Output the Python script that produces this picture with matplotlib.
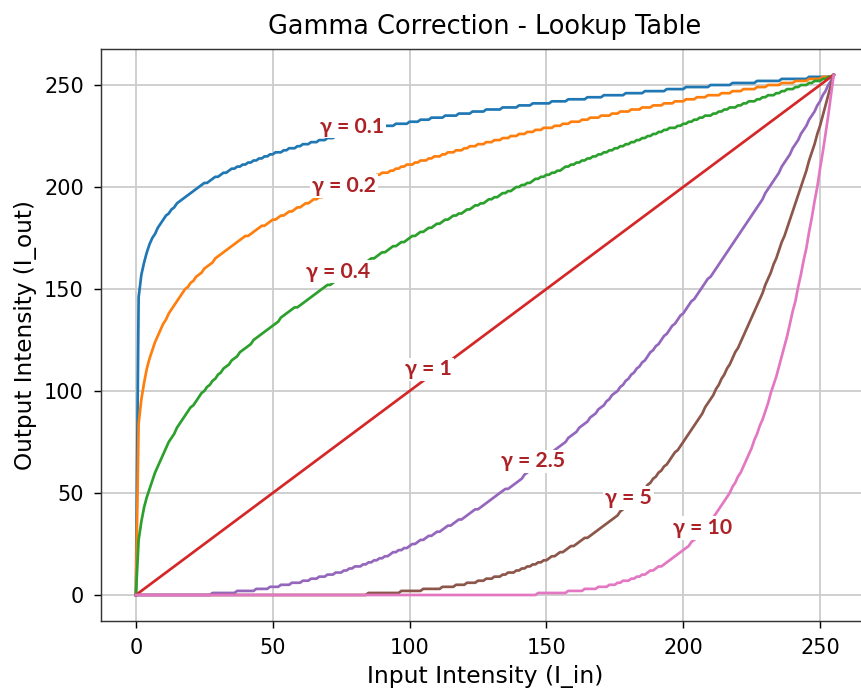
import numpy as np
import matplotlib
matplotlib.use("Agg")
import matplotlib.pyplot as plt

# gamma values and where each inline label sits (input intensity)
gammas = [0.1, 0.2, 0.4, 1, 2.5, 5, 10]
label_texts = ["γ = 0.1", "γ = 0.2", "γ = 0.4", "γ = 1", "γ = 2.5", "γ = 5", "γ = 10"]
label_x = [79, 76, 74, 107, 145, 180, 207]
label_dy = [4, 0.5, 4, 4, 4, 4, 2]  # small vertical nudge, points

intensity = np.arange(256)

fig = plt.figure(figsize=(861 / 130, 689 / 130), dpi=130)
ax = fig.add_axes([101 / 861, 1 - 621 / 689, 767.6 / 861, 572.2 / 689])

luts = []
for g in gammas:
    lut = np.array(255 * (intensity / 255) ** g, dtype=np.uint8)
    luts.append(lut)
    ax.plot(intensity, lut, lw=1.5)

for lut, txt, lx, dy in zip(luts, label_texts, label_x, label_dy):
    ly = lut[lx]
    ax.annotate(txt, (lx, ly), xytext=(0, dy), textcoords="offset points",
                ha="center", va="center", fontsize=11.8,
                fontweight="bold", color="#ad2226", family=["Lato", "DejaVu Sans"],
                bbox=dict(facecolor="white", edgecolor="none", pad=1.0), zorder=5)

ax.set_title("Gamma Correction - Lookup Table", fontsize=14.2, pad=8)
ax.set_xlabel("Input Intensity (I_in)", fontsize=13)
ax.set_ylabel("Output Intensity (I_out)", fontsize=12.8)
ax.tick_params(labelsize=11.6, pad=5.5, length=4)
ax.grid(True, color="#cccccc", lw=1)
for sp in ax.spines.values():
    sp.set_color("#333333")

fig.savefig("out.png", dpi=130)
